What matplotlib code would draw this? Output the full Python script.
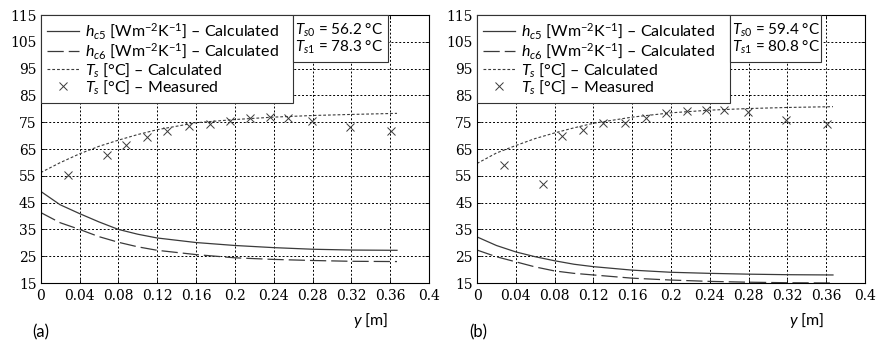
import numpy as np
import matplotlib.pyplot as plt
from matplotlib.lines import Line2D
from matplotlib.ticker import FixedLocator, FuncFormatter

plt.rcParams['font.family'] = 'DejaVu Serif'
plt.rcParams['mathtext.fontset'] = 'custom'
plt.rcParams['mathtext.rm'] = 'Lato'
plt.rcParams['mathtext.it'] = 'Lato:italic'
plt.rcParams['mathtext.bf'] = 'Lato:bold'

# Положения узлов расчётных кривых, м
y_calc = [0, 0.02, 0.04, 0.06, 0.08, 0.10, 0.12, 0.16, 0.20, 0.24, 0.28, 0.32, 0.367]
# Положения точек измерений, м
y_meas = [0.028, 0.068, 0.088, 0.109, 0.130, 0.153, 0.174, 0.195, 0.216, 0.236, 0.255, 0.279, 0.319, 0.361]

# (a)
hc5_a = [49.2, 44.2, 40.9, 37.8, 35.0, 33.2, 31.8, 30.1, 29.0, 28.2, 27.6, 27.3, 27.2]
hc6_a = [41.3, 37.5, 35.0, 32.3, 30.2, 28.5, 27.2, 25.6, 24.4, 23.8, 23.4, 23.1, 23.0]
Ts_calc_a = [56.2, 59.9, 63.2, 66.0, 68.3, 70.4, 72.2, 74.8, 76.0, 76.9, 77.5, 77.9, 78.3]
Ts_meas_a = [55.3, 62.8, 66.5, 69.4, 71.8, 73.5, 74.3, 75.6, 76.6, 77.1, 76.6, 75.6, 73.1, 71.6]
Ts0_a, Ts1_a = 56.2, 78.3

# (b)
hc5_b = [32.2, 29.0, 26.6, 24.8, 23.3, 22.0, 21.1, 19.8, 19.0, 18.6, 18.3, 18.1, 18.0]
hc6_b = [27.3, 24.8, 22.9, 21.0, 19.5, 18.6, 18.0, 16.8, 16.1, 15.6, 15.3, 15.1, 15.0]
Ts_calc_b = [59.6, 63.5, 66.3, 68.9, 71.0, 72.9, 74.6, 76.9, 78.5, 79.5, 80.1, 80.5, 80.8]
Ts_meas_b = [59.0, 52.1, 69.8, 72.2, 74.6, 74.6, 76.6, 78.3, 79.0, 79.6, 79.6, 78.7, 76.0, 74.4]
Ts0_b, Ts1_b = 59.4, 80.8

x_ticks = np.arange(0, 0.401, 0.04)
y_ticks = np.arange(15, 116, 10)

fig = plt.figure(figsize=(8.77, 3.45), dpi=100)
ax_a = fig.add_axes([0.0464, 0.1797, 0.4428, 0.7768])
ax_b = fig.add_axes([0.5439, 0.1797, 0.4424, 0.7768])

line_col = '#3a3a3a'
leg_kw = dict(loc='upper left', borderaxespad=0, mode='expand', fancybox=False,
              edgecolor='#333333', framealpha=1, labelspacing=0.0, borderpad=0.4)


def draw(ax, hc5, hc6, ts_calc, ts_meas, ts0, ts1, leg_w, box_w):
    ax.plot(y_calc, hc5, '-', color=line_col, lw=0.9,
            label=r'$h_{c5}$ [Wm$^{-2}$K$^{-1}$] – Calculated')
    ax.plot(y_calc, hc6, color=line_col, lw=0.9, dashes=(13, 4),
            label=r'$h_{c6}$ [Wm$^{-2}$K$^{-1}$] – Calculated')
    ax.plot(y_calc, ts_calc, color=line_col, lw=0.8, dashes=(2.5, 1.8),
            label=r'$T_s$ [°C] – Calculated')
    ax.plot(y_meas, ts_meas, 'x', color=line_col, ms=6, mew=0.7, linestyle='none',
            label=r'$T_s$ [°C] – Measured')

    ax.set_xlim(0, 0.4)
    ax.set_ylim(15, 115)
    ax.xaxis.set_major_locator(FixedLocator(x_ticks))
    ax.yaxis.set_major_locator(FixedLocator(y_ticks))
    ax.xaxis.set_major_formatter(FuncFormatter(lambda v, p: f'{round(v, 2):g}'))
    ax.yaxis.set_major_formatter(FuncFormatter(lambda v, p: f'{int(round(v))}'))
    ax.grid(True, color='black', lw=0.7, linestyle=(0, (2, 2)))
    ax.tick_params(direction='in', length=3, width=0.6, top=True, right=True,
                   labelsize=10, labelfontfamily='DejaVu Serif')
    ax.tick_params(axis='x', pad=4.5)
    ax.tick_params(axis='y', pad=3)
    for s in ax.spines.values():
        s.set_linewidth(0.8)

    leg = ax.legend(bbox_to_anchor=(0, 0.6, leg_w, 0.4), handlelength=2.0,
                    handletextpad=0.35, prop={'family': 'Lato', 'size': 11.5}, **leg_kw)
    leg.get_frame().set_linewidth(0.8)
    ax.add_artist(leg)

    blank = [Line2D([], [], alpha=0)] * 2
    tlabels = [rf'$T_{{s0}}$ = {ts0} °C', rf'$T_{{s1}}$ = {ts1} °C']
    leg2 = ax.legend(blank, tlabels, bbox_to_anchor=(leg_w, 0.8, box_w, 0.2),
                     handlelength=0, handletextpad=0,
                     prop={'family': 'Lato', 'size': 11}, **leg_kw)
    leg2.get_frame().set_linewidth(0.8)
    for t in leg2.get_texts():
        t.set_x(-4)

    ax.text(0.895, -0.14, r'$y$ [m]', transform=ax.transAxes, ha='right', va='center',
            family='Lato', fontsize=11.5)


draw(ax_a, hc5_a, hc6_a, Ts_calc_a, Ts_meas_a, Ts0_a, Ts1_a, 0.650, 0.244)
draw(ax_b, hc5_b, hc6_b, Ts_calc_b, Ts_meas_b, Ts0_b, Ts1_b, 0.652, 0.234)

fig.text(32 / 877, 1 - 332 / 345, '(a)', ha='left', va='center', family='Lato', fontsize=12)
fig.text(469 / 877, 1 - 332 / 345, '(b)', ha='left', va='center', family='Lato', fontsize=12)

fig.savefig('out.png', dpi=100)
